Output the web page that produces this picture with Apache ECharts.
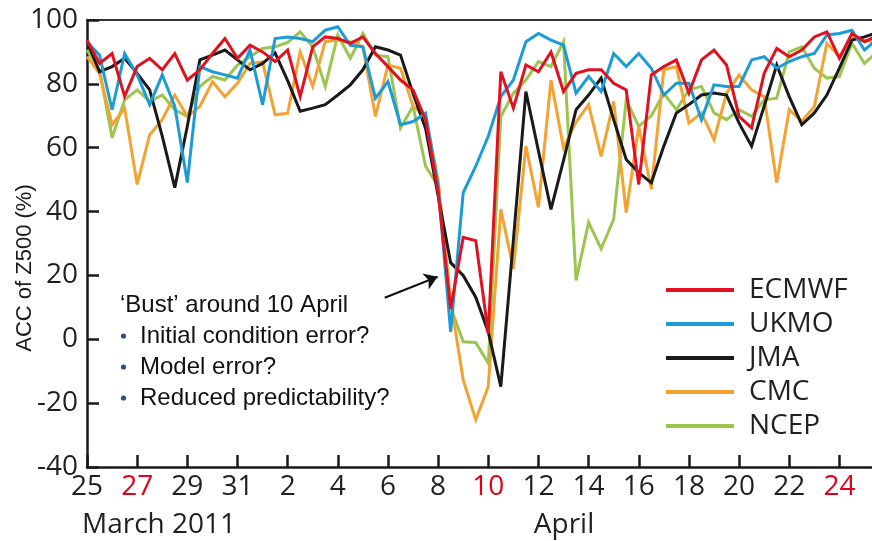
<!DOCTYPE html>
<html>
<head>
<meta charset="utf-8">
<title>ACC of Z500, March–April 2011</title>
<script src="https://cdn.jsdelivr.net/npm/echarts@6/dist/echarts.min.js"></script>
<style>
  html, body { margin: 0; padding: 0; background: #ffffff; }
  #chart { width: 872px; height: 541px; }
</style>
</head>
<body>
<div id="chart"></div>
<script>
// Forecasts verify twice daily (00 and 12 UTC) starting 25 March 2011.
const STEP_DAYS = 0.5;

// Day-of-month tick labels, one every second day from 25 March.
const tickLabels = ['25', '27', '29', '31', '2', '4', '6', '8', '10', '12', '14', '16', '18', '20', '22', '24'];
const redTicks = ['27', '10', '24'];

const modelNames = ['ECMWF', 'UKMO', 'JMA', 'CMC', 'NCEP'];

const ecmwf = [93.7, 86.4, 89.5, 76.1, 85.4, 88.0, 84.4, 89.5, 81.2, 84.4, 89.5, 94.2, 88.0, 92.1, 90.0, 87.0,
  90.6, 76.0, 91.6, 94.7, 94.2, 92.7, 94.7, 89.5, 85.4, 81.2, 78.1, 68.8, 46.0, 9.6, 31.9, 30.9,
  1.8, 83.8, 72.4, 85.9, 83.8, 90.0, 77.6, 83.3, 84.4, 84.4, 80.2, 78.1, 48.5, 82.8, 85.4, 87.5,
  77.1, 87.5, 90.6, 85.9, 69.8, 66.2, 83.3, 91.1, 88.5, 90.6, 94.7, 96.3, 88.0, 95.8, 93.2, 95.0];

const ukmo = [93.2, 89.0, 71.9, 89.5, 82.8, 73.5, 82.8, 73.0, 49.1, 85.4, 83.8, 82.8, 81.8, 90.6, 73.5, 94.2,
  94.7, 94.2, 93.2, 96.8, 97.9, 92.1, 91.6, 75.5, 80.7, 67.2, 68.2, 70.8, 48.0, 2.3, 45.9, 54.2,
  63.6, 76.0, 81.2, 93.2, 95.8, 93.7, 92.1, 77.1, 82.3, 77.6, 89.5, 85.4, 89.5, 84.9, 76.5, 80.2,
  80.2, 68.8, 79.7, 79.2, 79.2, 87.5, 88.5, 84.9, 87.0, 88.5, 89.5, 95.3, 95.8, 96.8, 90.6, 94.0];

const jma = [93.2, 83.8, 85.4, 88.0, 83.3, 78.1, 63.6, 47.5, 66.7, 87.5, 89.0, 90.6, 87.5, 84.4, 86.4, 89.7,
  81.0, 71.4, 72.4, 73.5, 76.5, 79.7, 84.4, 91.6, 90.6, 89.0, 77.0, 66.0, 45.0, 24.0, 20.0, 13.2,
  2.3, -14.8, 31.0, 77.6, 59.0, 40.7, 56.0, 71.9, 76.5, 81.8, 68.8, 56.3, 52.2, 49.0, 60.5, 70.9,
  73.5, 76.5, 77.1, 76.5, 67.7, 60.5, 73.0, 85.9, 76.0, 67.2, 70.9, 76.5, 84.9, 93.7, 94.7, 96.0];

const cmc = [88.5, 83.3, 67.2, 72.4, 48.5, 64.1, 68.8, 76.5, 69.8, 72.9, 80.7, 76.0, 80.2, 86.4, 86.9, 70.3,
  70.8, 90.0, 79.2, 93.2, 93.7, 93.2, 91.6, 69.8, 85.9, 84.9, 73.0, 69.8, 50.0, 12.0, -12.7, -25.2,
  -14.8, 40.7, 22.0, 60.5, 41.3, 81.2, 60.0, 68.0, 73.5, 57.3, 74.5, 39.7, 66.7, 47.0, 84.4, 85.4,
  67.7, 70.9, 62.5, 77.1, 82.8, 78.1, 76.0, 49.0, 71.9, 68.3, 72.9, 92.7, 88.5, 94.7, 93.7, 93.0];

const ncep = [90.6, 84.4, 63.1, 75.0, 78.1, 74.5, 76.5, 71.9, 69.8, 79.2, 82.3, 81.2, 85.9, 88.5, 91.1, 91.6,
  93.0, 96.3, 91.6, 79.2, 95.3, 88.0, 95.8, 89.0, 88.5, 66.2, 73.0, 54.2, 48.0, 10.0, -0.8, -1.0,
  -7.5, 69.8, 77.0, 81.2, 87.0, 85.4, 93.2, 18.4, 36.6, 28.3, 37.6, 75.0, 66.7, 70.0, 77.0, 71.9,
  78.1, 79.2, 70.9, 68.8, 71.9, 69.8, 75.0, 75.5, 90.0, 91.6, 84.9, 81.8, 82.3, 92.7, 86.4, 90.0];

const seriesValues = [ecmwf, ukmo, jma, cmc, ncep];
const seriesColors = ['#e1111f', '#1d9bd7', '#1a1a1a', '#f4a232', '#9cc550'];
const seriesZ = [5, 4, 3, 2, 1];

const LABEL_FONT = '"Open Sans", "Noto Sans", sans-serif';
const NOTE_FONT = '"Liberation Sans", Arial, sans-serif';
const INK = '#231f20';
const RED = '#e2001a';

const series = modelNames.map((name, k) => ({
  name: name,
  type: 'line',
  data: seriesValues[k].map((v, i) => [i * STEP_DAYS, v]),
  showSymbol: false,
  symbol: 'none',
  z: seriesZ[k],
  lineStyle: { width: 3, color: seriesColors[k], join: 'miter', miterLimit: 4 },
  itemStyle: { color: seriesColors[k] },
  emphasis: { disabled: true },
  animation: false
}));

// Arrow pointing at the forecast bust around 8-9 April
series[2].markLine = {
  silent: true,
  animation: false,
  symbol: ['none', 'arrow'],
  symbolSize: 13,
  label: { show: false },
  lineStyle: { color: '#111111', width: 2, type: 'solid' },
  data: [[{ coord: [11.87, 13.0] }, { coord: [13.98, 19.6] }]]
};

const chart = echarts.init(document.getElementById('chart'), null, { renderer: 'canvas' });

chart.setOption({
  animation: false,
  backgroundColor: '#ffffff',
  grid: { left: 87, right: 0, top: 20, bottom: 74, containLabel: false },
  xAxis: [{
    type: 'value',
    min: 0,
    max: 31.3,
    interval: 2,
    axisLine: { show: true, onZero: false, lineStyle: { color: '#1a1a1a', width: 2.5 } },
    axisTick: { show: true, inside: true, length: 12, lineStyle: { color: '#1a1a1a', width: 2.5 } },
    splitLine: { show: false },
    axisLabel: {
      margin: 6,
      fontFamily: LABEL_FONT,
      fontSize: 28,
      color: INK,
      showMaxLabel: false,
      formatter: function (v) {
        const t = tickLabels[Math.round(v / 2)];
        if (t === undefined) return '';
        return redTicks.indexOf(t) >= 0 ? '{r|' + t + '}' : t;
      },
      rich: { r: { color: RED, fontFamily: LABEL_FONT, fontSize: 28 } }
    }
  }, {
    type: 'value',
    position: 'top',
    min: 0,
    max: 31.3,
    axisLine: { show: true, onZero: false, lineStyle: { color: '#333333', width: 2 } },
    axisTick: { show: false },
    axisLabel: { show: false },
    splitLine: { show: false }
  }],
  yAxis: {
    type: 'value',
    min: -40,
    max: 100,
    interval: 20,
    axisLine: { show: true, onZero: false, lineStyle: { color: '#1a1a1a', width: 2.5 } },
    axisTick: { show: true, inside: true, length: 12, lineStyle: { color: '#1a1a1a', width: 2.5 } },
    splitLine: { show: false },
    axisLabel: { margin: 9, fontFamily: LABEL_FONT, fontSize: 28, color: INK }
  },
  legend: {
    orient: 'vertical',
    left: 661,
    top: 271,
    icon: 'rect',
    itemWidth: 68,
    itemHeight: 4,
    itemGap: 6,
    selectedMode: false,
    data: modelNames,
    textStyle: { fontFamily: LABEL_FONT, fontSize: 28, color: INK, padding: [0, 0, 0, 10] }
  },
  graphic: [
    {
      type: 'text', x: 25, y: 268, rotation: Math.PI / 2, silent: true,
      style: { text: 'ACC of Z500 (%)', fontFamily: NOTE_FONT, fontSize: 22, fill: '#1a1a1a',
               align: 'center', verticalAlign: 'middle' }
    },
    {
      type: 'text', x: 82, y: 525, silent: true,
      style: { text: 'March 2011', fontFamily: LABEL_FONT, fontSize: 28, fill: INK,
               align: 'left', verticalAlign: 'middle' }
    },
    {
      type: 'text', x: 564, y: 525, silent: true,
      style: { text: 'April', fontFamily: LABEL_FONT, fontSize: 28, fill: INK,
               align: 'center', verticalAlign: 'middle' }
    },
    {
      type: 'text', x: 120, y: 305, silent: true,
      style: { text: '\u2018Bust\u2019 around 10 April', fontFamily: NOTE_FONT, fontSize: 24, fill: '#111111',
               align: 'left', verticalAlign: 'middle' }
    },
    {
      type: 'circle', shape: { cx: 123.5, cy: 336, r: 2.6 }, silent: true, style: { fill: '#2b4f80' }
    },
    {
      type: 'text', x: 140, y: 336, silent: true,
      style: { text: 'Initial condition error?', fontFamily: NOTE_FONT, fontSize: 24, fill: '#111111',
               align: 'left', verticalAlign: 'middle' }
    },
    {
      type: 'circle', shape: { cx: 123.5, cy: 367, r: 2.6 }, silent: true, style: { fill: '#2b4f80' }
    },
    {
      type: 'text', x: 140, y: 367, silent: true,
      style: { text: 'Model error?', fontFamily: NOTE_FONT, fontSize: 24, fill: '#111111',
               align: 'left', verticalAlign: 'middle' }
    },
    {
      type: 'circle', shape: { cx: 123.5, cy: 398, r: 2.6 }, silent: true, style: { fill: '#2b4f80' }
    },
    {
      type: 'text', x: 140, y: 398, silent: true,
      style: { text: 'Reduced predictability?', fontFamily: NOTE_FONT, fontSize: 24, fill: '#111111',
               align: 'left', verticalAlign: 'middle' }
    }
  ],
  series: series
});
</script>
</body>
</html>
